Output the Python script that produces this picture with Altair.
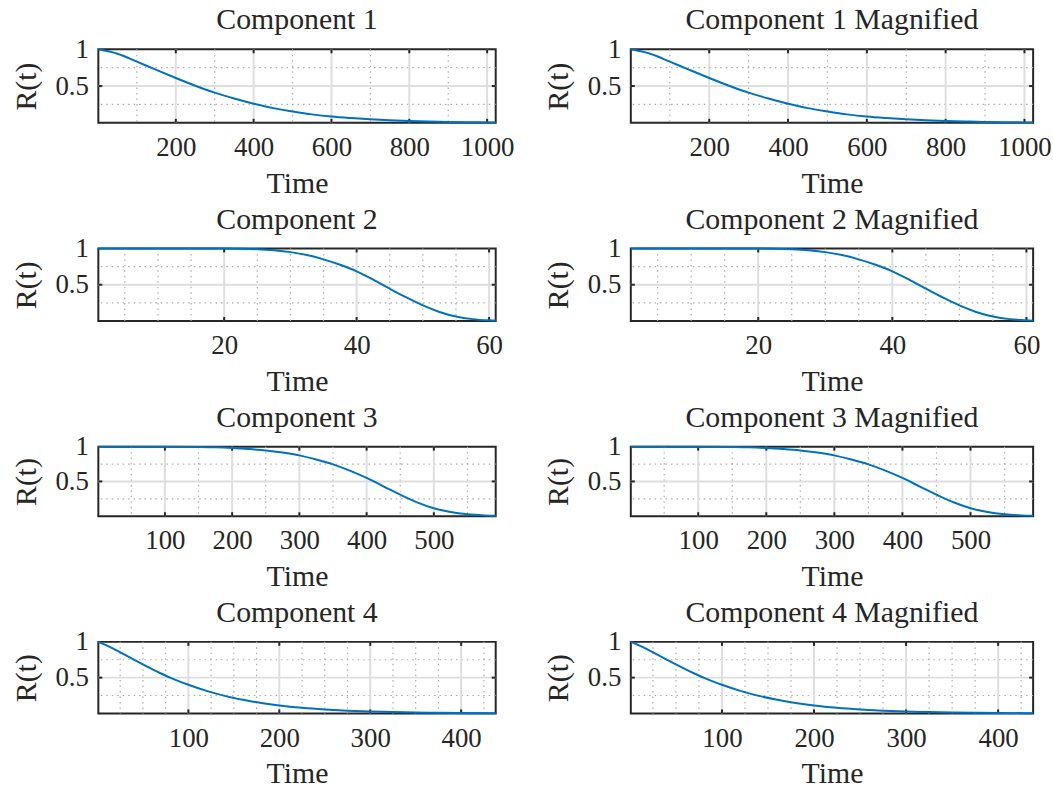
import altair as alt
import pandas as pd

FONT = "Liberation Serif"
TEXT = "#262626"
LINE = "#0072BD"

# ---- data ----
comp1_t = [1, 50, 100, 150, 200, 250, 300, 350, 400, 450, 500, 550, 600, 650, 700, 750, 800, 850, 900, 950, 1000, 1022]
comp1_r = [1.0, 0.94, 0.832, 0.72, 0.61, 0.505, 0.41, 0.33, 0.26, 0.20, 0.155, 0.115, 0.085, 0.064, 0.047, 0.034, 0.025, 0.018, 0.012, 0.009, 0.006, 0.005]

comp2_t = [1, 5, 10, 15, 20, 22.5, 25, 27.5, 30, 32.5, 35, 37.5, 40, 42.5, 45, 47.5, 50, 52.5, 55, 57.5, 60, 61]
comp2_r = [1.0, 1.0, 1.0, 1.0, 0.999, 0.997, 0.99, 0.975, 0.95, 0.91, 0.85, 0.775, 0.685, 0.57, 0.445, 0.325, 0.215, 0.125, 0.062, 0.026, 0.009, 0.005]

comp3_t = [1, 50, 100, 150, 175, 200, 225, 250, 275, 300, 325, 350, 375, 400, 425, 450, 475, 500, 525, 550, 575, 592]
comp3_r = [1.0, 1.0, 0.999, 0.995, 0.99, 0.98, 0.965, 0.945, 0.915, 0.875, 0.815, 0.745, 0.655, 0.55, 0.43, 0.31, 0.2, 0.115, 0.06, 0.028, 0.012, 0.006]

comp4_t = [1, 10, 20, 30, 40, 50, 60, 70, 80, 90, 100, 120, 140, 160, 180, 200, 225, 250, 275, 300, 325, 350, 375, 400, 438]
comp4_r = [1.0, 0.952, 0.888, 0.82, 0.751, 0.684, 0.619, 0.558, 0.5, 0.448, 0.4, 0.315, 0.245, 0.19, 0.145, 0.11, 0.078, 0.055, 0.038, 0.026, 0.018, 0.012, 0.008, 0.005, 0.003]

titles_left = ["Component 1", "Component 2", "Component 3", "Component 4"]
titles_right = ["Component 1 Magnified", "Component 2 Magnified", "Component 3 Magnified", "Component 4 Magnified"]

x_domains = [[1, 1022], [1, 61], [1, 592], [1, 438]]
x_major = [[200, 400, 600, 800, 1000], [20, 40, 60], [100, 200, 300, 400, 500], [100, 200, 300, 400]]
x_minor = [[100, 300, 500, 700, 900],
           [5, 10, 15, 25, 30, 35, 45, 50, 55],
           [50, 150, 250, 350, 450, 550],
           [25, 50, 75, 125, 150, 175, 225, 250, 275, 325, 350, 375, 425]]
y_major = [0.5, 1]
y_minor = [0.25, 0.75]
y_label = "R(t)"
x_label = "Time"

series_t = [comp1_t, comp2_t, comp3_t, comp4_t]
series_r = [comp1_r, comp2_r, comp3_r, comp4_r]

row_heights = [74, 73, 70, 72]
col_widths = [400, 405]


def panel(i, title, width, height):
    xs = alt.Scale(domain=x_domains[i], nice=False, zero=False)
    ys = alt.Scale(domain=[0, 1], nice=False, zero=False)
    xax = alt.Axis(values=x_major[i], format="d", title=x_label, labelPadding=12,
                   titlePadding=8)
    yax = alt.Axis(values=y_major, format="~g", title=y_label, labelPadding=10,
                   titlePadding=14)
    X = lambda f: alt.X(f, type="quantitative", scale=xs, axis=xax)
    Y = lambda f: alt.Y(f, type="quantitative", scale=ys, axis=yax)

    dmx = pd.DataFrame({"v": x_minor[i]})
    dMx = pd.DataFrame({"v": x_major[i]})
    dmy = pd.DataFrame({"v": y_minor})
    dMy = pd.DataFrame({"v": [0.5]})

    minor_x = alt.Chart(dmx).mark_rule(color="#ababab", strokeWidth=1.2, strokeDash=[1.5, 4]).encode(x=X("v"))
    minor_y = alt.Chart(dmy).mark_rule(color="#ababab", strokeWidth=1.2, strokeDash=[1.5, 4]).encode(y=Y("v"))
    major_x = alt.Chart(dMx).mark_rule(color="#dedede", strokeWidth=2).encode(x=X("v"))
    major_y = alt.Chart(dMy).mark_rule(color="#dedede", strokeWidth=2).encode(y=Y("v"))
    tick_top = alt.Chart(dMx).mark_rule(color=TEXT, strokeWidth=2).encode(
        x=X("v"), y=alt.value(0), y2=alt.value(4))
    tick_bot = alt.Chart(dMx).mark_rule(color=TEXT, strokeWidth=2).encode(
        x=X("v"), y=alt.value(height - 4), y2=alt.value(height))
    tick_l = alt.Chart(dMy).mark_rule(color=TEXT, strokeWidth=2).encode(
        y=Y("v"), x=alt.value(0), x2=alt.value(4))
    tick_r = alt.Chart(dMy).mark_rule(color=TEXT, strokeWidth=2).encode(
        y=Y("v"), x=alt.value(width - 4), x2=alt.value(width))

    df = pd.DataFrame({"t": series_t[i], "r": series_r[i]})
    line = alt.Chart(df).mark_line(color=LINE, strokeWidth=2, interpolate="monotone").encode(
        x=X("t"), y=Y("r"))

    return alt.layer(minor_x, minor_y, major_x, major_y, tick_top, tick_bot, tick_l, tick_r, line).properties(
        width=width, height=height,
        title=alt.TitleParams(text=title, font=FONT, fontSize=30, fontWeight="normal",
                              color=TEXT, offset=0, anchor="middle"))


panels = []
for i in range(4):
    panels.append(panel(i, titles_left[i], col_widths[0], row_heights[i]))
    panels.append(panel(i, titles_right[i], col_widths[1], row_heights[i]))

chart = alt.concat(*panels, columns=2, spacing={"row": 126.5, "column": 136},
                   bounds="flush", align="each").properties(
    padding={"left": 10, "top": 2, "right": 0, "bottom": 0},
    background="white",
).configure_view(
    stroke=TEXT, strokeWidth=2
).configure_axis(
    grid=False, domain=False, ticks=False, tickSize=0,
    labelFont=FONT, labelFontSize=27, labelColor=TEXT,
    titleFont=FONT, titleFontSize=30, titleFontWeight="normal", titleColor=TEXT,
    labelFlush=False, labelOverlap=False, labelBound=False,
)

chart.save("out.html", embed_options={"renderer": "svg", "actions": False})
